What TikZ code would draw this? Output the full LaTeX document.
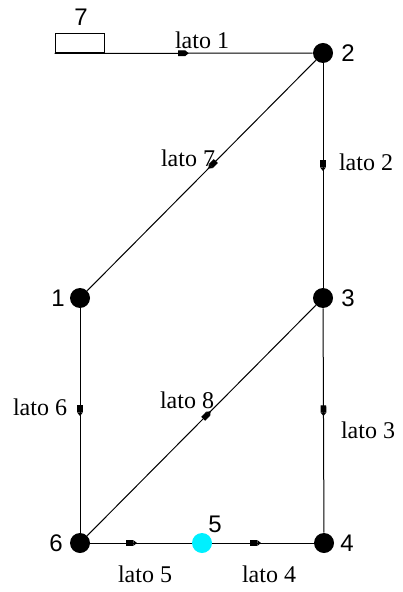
\documentclass[tikz,border=0pt]{standalone}
\usepackage{fontspec}
\setmainfont{Liberation Serif}
\newfontfamily\numfont{Liberation Sans}
\usetikzlibrary{arrows.meta,decorations.markings}
\definecolor{vertcyan}{RGB}{0,240,255}

\tikzset{
  vertex/.style={circle,fill=black,inner sep=0pt,minimum size=10pt},
  midvertex/.style={vertex,fill=vertcyan},
  numlbl/.style={font=\numfont\fontsize{12}{14}\selectfont,inner sep=0pt},
  latolbl/.style={font=\fontsize{12}{14}\selectfont,inner sep=0pt},
  lato/.style={line width=0.5pt,postaction={decorate},
    decoration={markings,mark=at position #1 with
      {\arrow{Rectangle[length=3.5pt,width=2.8pt]Triangle[length=1.8pt,width=2.8pt]}}}},
  lato/.default=0.48
}

\begin{document}
\begin{tikzpicture}[x=0.5pt,y=-0.5pt]
  \useasboundingbox (0,0) rectangle (402,592);

  % vertici
  \node[vertex] (n1) at (80,298) {};
  \node[vertex] (n2) at (323,53) {};
  \node[vertex] (n3) at (323,298) {};
  \node[vertex] (n4) at (324,543) {};
  \node[midvertex] (n5) at (202,543) {};
  \node[vertex] (n6) at (80,543) {};
  \node[draw,line width=0.5pt,inner sep=0pt,minimum width=24.5pt,minimum height=9.5pt]
    (b7) at (79.5,43.5) {};

  % numeri dei vertici
  \node[numlbl] (t1) at (58,298) {1};
  \node[numlbl] (t2) at (348,53) {2};
  \node[numlbl] (t3) at (348,298) {3};
  \node[numlbl] (t4) at (347,543) {4};
  \node[numlbl] (t5) at (215,524) {5};
  \node[numlbl] (t6) at (56,543) {6};
  \node[numlbl] (t7) at (81,17) {7};

  % lati
  \draw[lato=0.52] (b7.south west) -- (n2);
  \draw[lato] (n2) -- (n3);
  \draw[lato] (n3) -- (n4);
  \draw[lato] (n5) -- (n4);
  \draw[lato=0.46] (n6) -- (n5);
  \draw[lato] (n1) -- (n6);
  \draw[lato=0.47] (n2) -- (n1);
  \draw[lato=0.54] (n6) -- (n3);

  % etichette dei lati
  \node[latolbl] (l1) at (202,40) {lato 1};
  \node[latolbl] (l2) at (366,162) {lato 2};
  \node[latolbl] (l3) at (368,430) {lato 3};
  \node[latolbl] (l4) at (269,574) {lato 4};
  \node[latolbl] (l5) at (145,574) {lato 5};
  \node[latolbl] (l6) at (40,407) {lato 6};
  \node[latolbl] (l7) at (188,158) {lato 7};
  \node[latolbl] (l8) at (187,400) {lato 8};
\end{tikzpicture}
\end{document}
